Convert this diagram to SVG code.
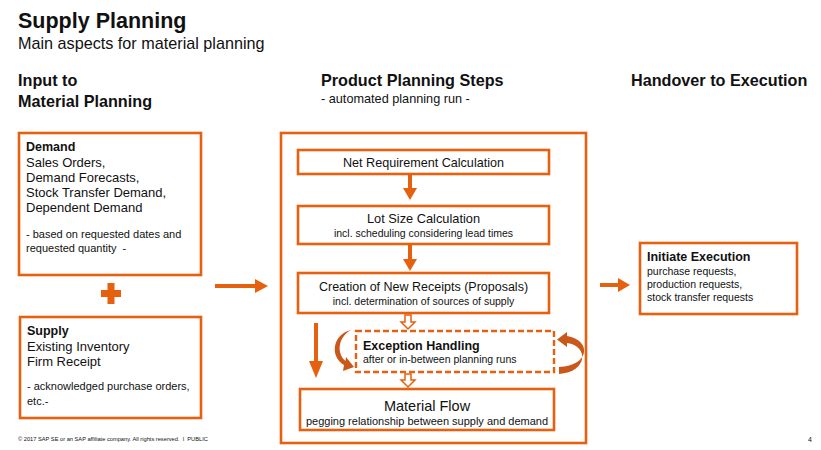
<svg xmlns="http://www.w3.org/2000/svg" width="821" height="450" viewBox="0 0 821 450">
<style>
text{font-family:"Liberation Sans",Arial,sans-serif;fill:#111}
.b{font-weight:bold}
.box{fill:#fff;stroke:#E5600F;stroke-width:2.6}
.dash{fill:#fff;stroke:#E5600F;stroke-width:2.4;stroke-dasharray:6 3}
.c{text-anchor:middle}
.or{fill:#E5600F}
.hol{fill:#fff;stroke:#E5600F;stroke-width:1.5}
.cur{fill:#C9581A}
</style>
<rect width="821" height="450" fill="#fff"/>
<g id="title">
<text x="18" y="28" class="b" font-size="21.5">Supply Planning</text>
<text x="18" y="49" font-size="16.2">Main aspects for material planning</text>
</g>
<g id="headers">
<text x="18" y="86" class="b" font-size="16.2">Input to</text>
<text x="18" y="107" class="b" font-size="16.2">Material Planning</text>
<text x="321" y="86" class="b" font-size="16.2">Product Planning Steps</text>
<text x="321" y="103" font-size="12.7">- automated planning run -</text>
<text x="631" y="86" class="b" font-size="16.2">Handover to Execution</text>
</g>
<g id="demand">
<rect class="box" x="19" y="133" width="182" height="142"/>
<text x="26" y="151" class="b" font-size="12.5">Demand</text>
<text x="26" y="167" font-size="13">Sales Orders,</text>
<text x="26" y="182" font-size="13">Demand Forecasts,</text>
<text x="26" y="197" font-size="13">Stock Transfer Demand,</text>
<text x="26" y="212" font-size="13">Dependent Demand</text>
<text x="26" y="238" font-size="11">- based on requested dates and</text>
<text x="26" y="252" font-size="11" xml:space="preserve">requested quantity  -</text>
</g>
<g id="plus">
<rect class="or" x="101" y="290" width="20" height="7"/>
<rect class="or" x="107.5" y="283" width="7" height="21"/>
</g>
<g id="supply">
<rect class="box" x="20" y="317" width="181" height="101"/>
<text x="27" y="335" class="b" font-size="12.5">Supply</text>
<text x="27" y="351" font-size="13">Existing Inventory</text>
<text x="27" y="366" font-size="13">Firm Receipt</text>
<text x="27" y="390" font-size="11">- acknowledged purchase orders,</text>
<text x="27" y="405" font-size="11">etc.-</text>
</g>
<g id="planning-frame">
<rect class="box" x="281" y="133" width="305" height="310"/>
</g>
<g id="net">
<rect class="box" x="298" y="150" width="251" height="24"/>
<text x="423.5" y="166.5" class="c" font-size="12.6">Net Requirement Calculation</text>
</g>
<g id="lot">
<rect class="box" x="298" y="206" width="251" height="38"/>
<text x="423.5" y="223" class="c" font-size="12.8">Lot Size Calculation</text>
<text x="423.5" y="237" class="c" font-size="10.5">incl. scheduling considering lead times</text>
</g>
<g id="creation">
<rect class="box" x="298" y="273" width="251" height="40"/>
<text x="423.5" y="291" class="c" font-size="12.5">Creation of New Receipts (Proposals)</text>
<text x="423.5" y="305" class="c" font-size="10.5">incl. determination of sources of supply</text>
</g>
<g id="exception">
<rect class="dash" x="356" y="331" width="198" height="41"/>
<text x="363" y="350" class="b" font-size="12.5">Exception Handling</text>
<text x="363" y="363" font-size="10.5">after or in-between planning runs</text>
</g>
<g id="material-flow">
<rect class="box" x="300" y="389" width="254" height="41"/>
<text x="427" y="411" class="c" font-size="14.5">Material Flow</text>
<text x="427" y="425" class="c" font-size="11">pegging relationship between supply and demand</text>
</g>
<g id="execution">
<rect class="box" x="640" y="243" width="157" height="71"/>
<text x="647" y="261" class="b" font-size="12.5">Initiate Execution</text>
<text x="647" y="275" font-size="10.5">purchase requests,</text>
<text x="647" y="288" font-size="10.5">production requests,</text>
<text x="647" y="301" font-size="10.5">stock transfer requests</text>
</g>
<g id="connectors">
<rect class="or" x="215" y="284" width="42" height="4"/>
<polygon class="or" points="255,279 268,286 255,293"/>
<rect class="or" x="600" y="283" width="20" height="4"/>
<polygon class="or" points="618,278 630,285 618,292"/>
<rect class="or" x="408" y="174" width="4" height="16"/>
<polygon class="or" points="403,188 417,188 410,200"/>
<rect class="or" x="408" y="244" width="4" height="17"/>
<polygon class="or" points="403,259 417,259 410,271"/>
<rect class="or" x="314" y="323" width="4" height="40"/>
<polygon class="or" points="309,361 323,361 316,378"/>
<polygon class="hol" points="405,315 411,315 411,322 415,322 408,329 401,322 405,322"/>
<polygon class="hol" points="405,374 411,374 411,380 415,380 408,387 401,380 405,380"/>
<path class="cur" d="M351 330 C333 334 329 356 344 365 L343 371 L354 367 L346 357 L345.5 361 C337 354 337 338 351 330 Z"/>
<path class="cur" d="M559 374 C588 372 589 346 567 343 L567 347 L557 339.5 L567 332 L567 336 C592 340 590 366 559 367 Z"/>
</g>
<g id="footer">
<text x="18" y="441" font-size="5.7" fill="#333" xml:space="preserve">© 2017 SAP SE or an SAP affiliate company. All rights reserved.  ǀ  PUBLIC</text>
<text x="808" y="442" font-size="7">4</text>
</g>
</svg>
